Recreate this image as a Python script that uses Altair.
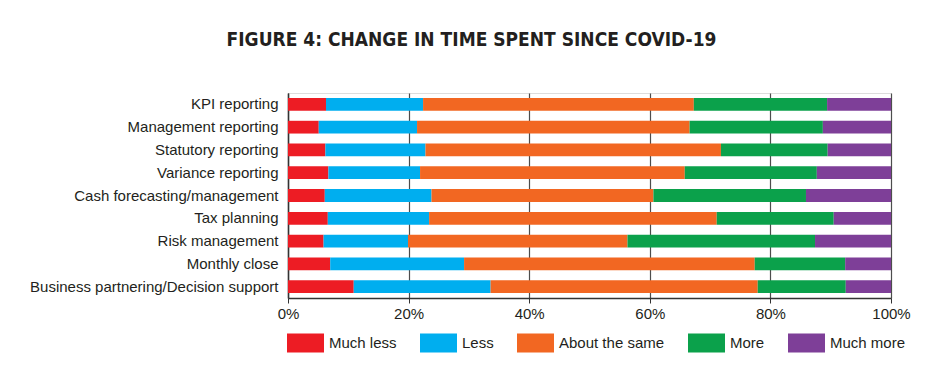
import altair as alt
import pandas as pd

categories = [
    "KPI reporting",
    "Management reporting",
    "Statutory reporting",
    "Variance reporting",
    "Cash forecasting/management",
    "Tax planning",
    "Risk management",
    "Monthly close",
    "Business partnering/Decision support",
]
responses = ["Much less", "Less", "About the same", "More", "Much more"]
colors = ["#ed1c24", "#00aeef", "#f26722", "#0ba14b", "#7e3f98"]

much_less = [6.3, 5.1, 6.2, 6.7, 6.1, 6.6, 5.9, 7.0, 10.9]
less = [16.1, 16.3, 16.6, 15.2, 17.7, 16.8, 14.0, 22.2, 22.7]
about_same = [44.9, 45.2, 49.0, 43.9, 36.8, 47.7, 36.4, 48.2, 44.3]
more = [22.1, 22.1, 17.7, 21.9, 25.3, 19.4, 31.1, 15.0, 14.6]
much_more = [10.6, 11.3, 10.5, 12.3, 14.1, 9.5, 12.6, 7.6, 7.5]

tick_values = [0, 20, 40, 60, 80, 100]

series = [much_less, less, about_same, more, much_more]
rows = []
for ri, (resp, vals) in enumerate(zip(responses, series)):
    for cat, v in zip(categories, vals):
        rows.append({"Category": cat, "Response": resp, "Value": v, "order": ri})
df = pd.DataFrame(rows)

TEXT = "#231f20"

chart = alt.Chart(df).mark_bar().encode(
    y=alt.Y(
        "Category:N",
        sort=categories,
        scale=alt.Scale(paddingInner=0.44, paddingOuter=0.22),
        axis=alt.Axis(
            title=None,
            ticks=False,
            tickSize=0,
            labelPadding=10,
            labelLimit=400,
            labelFontSize=15,
            labelFont="Liberation Sans",
            labelColor=TEXT,
            domainColor="#333333",
            domainWidth=1.5,
            grid=False,
        ),
    ),
    x=alt.X(
        "Value:Q",
        stack="zero",
        scale=alt.Scale(domain=[0, 100], nice=False),
        axis=alt.Axis(
            title=None,
            values=tick_values,
            labelExpr="datum.value + '%'",
            labelFlush=False,
            labelOverlap=False,
            labelFontSize=15,
            labelFont="Liberation Sans",
            labelColor=TEXT,
            labelPadding=3,
            tickSize=5,
            tickColor="#333333",
            domainColor="#333333",
            domainWidth=1.5,
            grid=True,
            gridColor="#4d4d4d",
            gridWidth=1.2,
        ),
    ),
    color=alt.Color(
        "Response:N",
        scale=alt.Scale(domain=responses, range=colors),
        legend=alt.Legend(
            title=None,
            orient="none",
            direction="horizontal",
            legendX=-1,
            legendY=231,
            padding=0,
            symbolType="M-1,-0.514L1,-0.514L1,0.514L-1,0.514Z",
            symbolSize=1369,
            symbolStrokeWidth=0,
            symbolOpacity=1,
            labelFontSize=15,
            labelFont="Liberation Sans",
            labelColor=TEXT,
            labelOffset=5,
            columnPadding=23,
        ),
    ),
    order=alt.Order("order:Q"),
).properties(
    width=603,
    height=205,
    padding={"left": 280, "top": 85, "right": 40, "bottom": 60},
    autosize=alt.AutoSizeParams(type="none"),
    title=alt.Title(
        "FIGURE 4: CHANGE IN TIME SPENT SINCE COVID-19",
        font="DejaVu Sans Condensed, Liberation Sans",
        fontSize=19,
        fontWeight="bold",
        color=TEXT,
        anchor="middle",
        dx=-118,
        offset=43,
    ),
).configure_view(
    stroke="#3a3a3a",
    strokeWidth=1.2,
).configure(background="white")

chart.save("out.html", embed_options={"renderer": "svg", "actions": False})
